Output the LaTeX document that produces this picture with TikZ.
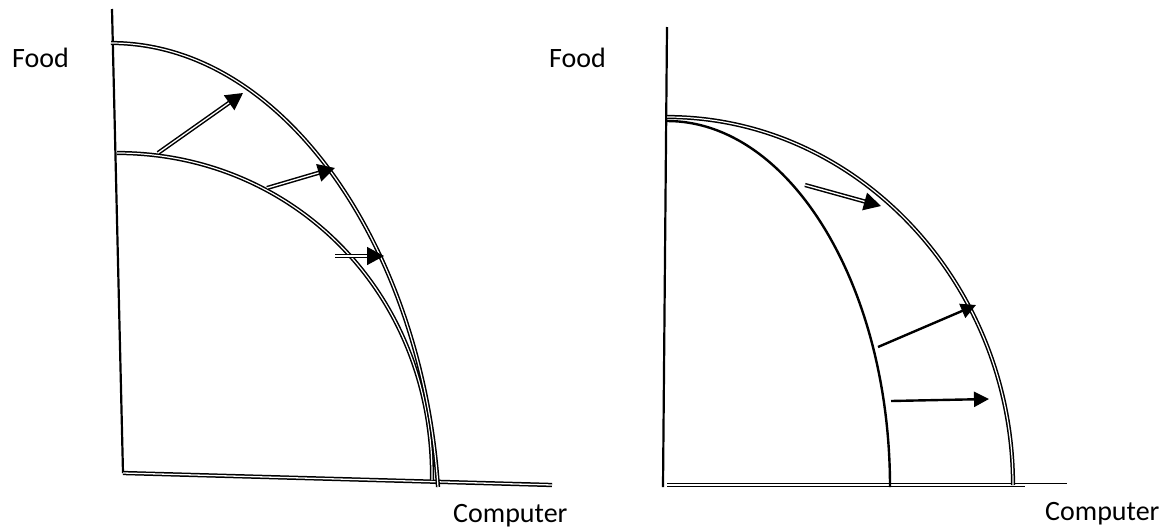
\documentclass[tikz,border=0pt]{standalone}
\usepackage{fontspec}
\setmainfont{Carlito}
\usetikzlibrary{arrows.meta}

\begin{document}
\begin{tikzpicture}[
  x=1pt,
  y=-1pt,
  font=\fontsize{28}{34}\selectfont,
  axis/.style={line width=2.2pt},
  axisdouble/.style={
    line width=1.5pt,
    double=white,
    double distance=1.3pt
  },
  ppf/.style={
    line width=1.5pt,
    double=white,
    double distance=1.2pt
  },
  ppfsingle/.style={line width=2.4pt},
  growth/.style={-{Triangle[length=17pt,width=18pt]},line width=1.5pt,double=white,double distance=1.3pt},
  growthsingle/.style={-{Triangle[length=15pt,width=15pt]},line width=2.4pt},
  axislabel/.style={inner sep=0pt}
]
\useasboundingbox (0,0) rectangle (1170,528);

% 1. Left panel: axes
\coordinate (lorigin) at (123,473);
\coordinate (ltop) at (112,9);
\coordinate (lright) at (552,485);
\draw[axis] (ltop) -- (lorigin);
\draw[axisdouble] (lorigin) -- (lright);
\node[axislabel,anchor=base west] (lfood) at (12,67) {Food};
\node[axislabel,anchor=base west] (lcomp) at (453,522) {Computer};

% 2. Left panel: frontiers (both goods grow)
\draw[ppf] (117,153) .. controls (292,153) and (434,292) .. (432,480);
\draw[ppf] (111,43) .. controls (284,43) and (422,248) .. (438,487);

% 3. Left panel: outward shifts
\coordinate (la1) at (158,153);
\coordinate (lb1) at (243,93);
\coordinate (la2) at (267,188);
\coordinate (lb2) at (335,168);
\coordinate (la3) at (335,256);
\coordinate (lb3) at (384,256);
\draw[growth] (la1) -- (lb1);
\draw[growth] (la2) -- (lb2);
\draw[growth] (la3) -- (lb3);

% 4. Right panel: axes
\coordinate (rorigin) at (663,487);
\coordinate (rtop) at (667,27);
\coordinate (rbase) at (667,485);
\coordinate (rright) at (1025,485);
\coordinate (rend) at (1067,483);
\draw[axis] (rtop) -- (rorigin);
\draw[axisdouble] (rbase) -- (rright);
\draw[line width=0.6pt] (1025,483) -- (rend);
\node[axislabel,anchor=base west] (rfood) at (549,67) {Food};
\node[axislabel,anchor=base west] (rcomp) at (1045,520) {Computer};

% 5. Right panel: frontiers (only computers grow)
\draw[ppfsingle] (667,121) .. controls (790,121) and (890,286) .. (890,487);
\draw[ppf] (667,117) .. controls (857,117) and (1013,283) .. (1013,485);

% 6. Right panel: outward shifts
\coordinate (ra1) at (805,185);
\coordinate (rb1) at (881,206);
\coordinate (ra2) at (878,347);
\coordinate (rb2) at (976,305);
\coordinate (ra3) at (891,401);
\coordinate (rb3) at (989,399);
\draw[growth] (ra1) -- (rb1);
\draw[growthsingle] (ra2) -- (rb2);
\draw[growthsingle] (ra3) -- (rb3);

\end{tikzpicture}
\end{document}
